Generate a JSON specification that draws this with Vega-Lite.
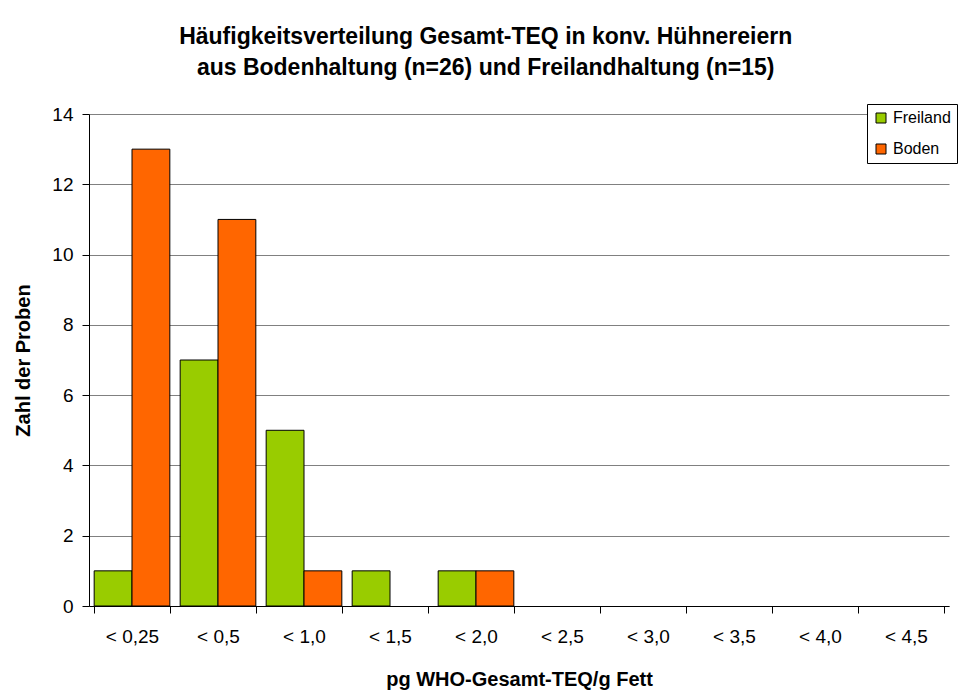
{
  "$schema": "https://vega.github.io/schema/vega-lite/v6.json",
  "width": 860,
  "height": 492,
  "autosize": {"type": "none"},
  "padding": {"left": 89, "top": 114, "right": 20, "bottom": 85},
  "background": "white",
  "config": {
    "font": "Liberation Sans",
    "view": {"stroke": null}
  },
  "title": {
    "text": ["Häufigkeitsverteilung Gesamt-TEQ in konv. Hühnereiern", "aus Bodenhaltung (n=26) und Freilandhaltung (n=15)"],
    "fontSize": 23,
    "fontWeight": "bold",
    "font": "Liberation Sans",
    "color": "black",
    "anchor": "middle",
    "frame": "bounds",
    "lineHeight": 31,
    "offset": 24
  },
  "data": {
    "values": [
      {"cat": "< 0,25", "series": "Freiland", "n": 1},
      {"cat": "< 0,25", "series": "Boden", "n": 13},
      {"cat": "< 0,5", "series": "Freiland", "n": 7},
      {"cat": "< 0,5", "series": "Boden", "n": 11},
      {"cat": "< 1,0", "series": "Freiland", "n": 5},
      {"cat": "< 1,0", "series": "Boden", "n": 1},
      {"cat": "< 1,5", "series": "Freiland", "n": 1},
      {"cat": "< 1,5", "series": "Boden", "n": 0},
      {"cat": "< 2,0", "series": "Freiland", "n": 1},
      {"cat": "< 2,0", "series": "Boden", "n": 1},
      {"cat": "< 2,5", "series": "Freiland", "n": 0},
      {"cat": "< 2,5", "series": "Boden", "n": 0},
      {"cat": "< 3,0", "series": "Freiland", "n": 0},
      {"cat": "< 3,0", "series": "Boden", "n": 0},
      {"cat": "< 3,5", "series": "Freiland", "n": 0},
      {"cat": "< 3,5", "series": "Boden", "n": 0},
      {"cat": "< 4,0", "series": "Freiland", "n": 0},
      {"cat": "< 4,0", "series": "Boden", "n": 0},
      {"cat": "< 4,5", "series": "Freiland", "n": 0},
      {"cat": "< 4,5", "series": "Boden", "n": 0}
    ]
  },
  "transform": [{"filter": "datum.n > 0"}],
  "mark": {"type": "bar", "stroke": "black", "strokeWidth": 1},
  "encoding": {
    "x": {
      "field": "cat",
      "type": "nominal",
      "sort": null,
      "scale": {
        "domain": ["< 0,25", "< 0,5", "< 1,0", "< 1,5", "< 2,0", "< 2,5", "< 3,0", "< 3,5", "< 4,0", "< 4,5"],
        "paddingInner": 0.12,
        "paddingOuter": 0.06
      },
      "axis": {
        "title": "pg WHO-Gesamt-TEQ/g Fett",
        "titleFontSize": 20,
        "titleFontWeight": "bold",
        "titleColor": "black",
        "titlePadding": 23,
        "labelAngle": 0,
        "labelFontSize": 19,
        "labelColor": "black",
        "labelPadding": 14,
        "tickBand": "extent",
        "tickSize": 7,
        "tickColor": "black",
        "domainColor": "black",
        "grid": false
      }
    },
    "xOffset": {
      "field": "series",
      "type": "nominal",
      "sort": ["Freiland", "Boden"],
      "scale": {"domain": ["Freiland", "Boden"], "paddingInner": 0, "paddingOuter": 0}
    },
    "y": {
      "field": "n",
      "type": "quantitative",
      "scale": {"domain": [0, 14], "nice": false},
      "axis": {
        "title": "Zahl der Proben",
        "titleFontSize": 20,
        "titleFontWeight": "bold",
        "titleColor": "black",
        "titlePadding": 18,
        "values": [0, 2, 4, 6, 8, 10, 12, 14],
        "labelFontSize": 19,
        "labelColor": "black",
        "labelPadding": 9,
        "tickSize": 7,
        "tickColor": "black",
        "domainColor": "black",
        "grid": true,
        "gridColor": "#808080",
        "gridWidth": 1
      }
    },
    "color": {
      "field": "series",
      "type": "nominal",
      "sort": ["Freiland", "Boden"],
      "scale": {"domain": ["Freiland", "Boden"], "range": ["#99CC00", "#FF6600"]},
      "legend": {
        "title": null,
        "orient": "none",
        "legendX": 778,
        "legendY": -10,
        "strokeColor": "black",
        "fillColor": "white",
        "padding": 6,
        "symbolType": "square",
        "symbolSize": 100,
        "symbolStrokeColor": "black",
        "symbolStrokeWidth": 1,
        "symbolOpacity": 1,
        "labelFontSize": 16,
        "labelColor": "black",
        "rowPadding": 15,
        "labelOffset": 4
      }
    }
  }
}
